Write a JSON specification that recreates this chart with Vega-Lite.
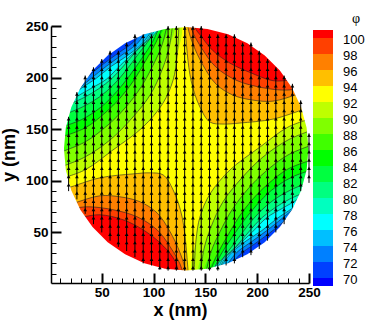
{"$schema":"https://vega.github.io/schema/vega-lite/v6.json","width":258,"height":257,"padding":{"left":51,"top":26,"right":65,"bottom":49},"autosize":{"type":"none"},"background":"white","config":{"view":{"stroke":null},"font":"Liberation Sans"},
"datasets":{"poly":[
{"p":"base","v":93,"c":1,"x":-5,"y":-5},{"p":"base","v":93,"c":1,"x":-5,"y":255},{"p":"base","v":93,"c":1,"x":255,"y":255},{"p":"base","v":93,"c":1,"x":255,"y":-5},
{"p":"TL92","v":91,"x":9.7,"y":101.9},{"p":"TL92","v":91,"x":33.8,"y":110.6},{"p":"TL92","v":91,"x":60.8,"y":129.9},{"p":"TL92","v":91,"x":89.8,"y":152.1},{"p":"TL92","v":91,"x":109.1,"y":175.3},{"p":"TL92","v":91,"x":118.8,"y":197.5},{"p":"TL92","v":91,"x":122.6,"y":219.8},{"p":"TL92","v":91,"x":124.6,"y":255},{"p":"TL92","v":91,"c":1,"x":1,"y":255},
{"p":"TL90","v":89,"x":7.8,"y":112.5},{"p":"TL90","v":89,"x":33.8,"y":123.1},{"p":"TL90","v":89,"x":58,"y":139.6},{"p":"TL90","v":89,"x":79.2,"y":160.8},{"p":"TL90","v":89,"x":96.6,"y":183},{"p":"TL90","v":89,"x":108.1,"y":207.2},{"p":"TL90","v":89,"x":114.9,"y":228.5},{"p":"TL90","v":89,"x":118.8,"y":255},{"p":"TL90","v":89,"c":1,"x":1,"y":255},
{"p":"TL88","v":87,"x":7.8,"y":127},{"p":"TL88","v":87,"x":33.8,"y":137.6},{"p":"TL88","v":87,"x":56,"y":154.1},{"p":"TL88","v":87,"x":72.4,"y":170.5},{"p":"TL88","v":87,"x":87.9,"y":190.8},{"p":"TL88","v":87,"x":99.5,"y":212},{"p":"TL88","v":87,"x":108.1,"y":231.4},{"p":"TL88","v":87,"x":113.9,"y":255},{"p":"TL88","v":87,"c":1,"x":1,"y":255},
{"p":"TL86","v":85,"x":7.8,"y":141.5},{"p":"TL86","v":85,"x":33.8,"y":151.2},{"p":"TL86","v":85,"x":53.1,"y":165.7},{"p":"TL86","v":85,"x":67.6,"y":180.1},{"p":"TL86","v":85,"x":81.1,"y":197.5},{"p":"TL86","v":85,"x":92.7,"y":216.9},{"p":"TL86","v":85,"x":102.4,"y":234.3},{"p":"TL86","v":85,"x":111,"y":255},{"p":"TL86","v":85,"c":1,"x":1,"y":255},
{"p":"TL84","v":83,"x":9.3,"y":151.6},{"p":"TL84","v":83,"x":30.5,"y":159.3},{"p":"TL84","v":83,"x":49.8,"y":171.9},{"p":"TL84","v":83,"x":64.3,"y":186.4},{"p":"TL84","v":83,"x":76.8,"y":201.8},{"p":"TL84","v":83,"x":88.4,"y":218.3},{"p":"TL84","v":83,"x":99,"y":234.7},{"p":"TL84","v":83,"x":107.7,"y":254},{"p":"TL84","v":83,"c":1,"x":1,"y":255},
{"p":"TL82","v":81,"x":9.8,"y":162.7},{"p":"TL82","v":81,"x":31,"y":171.4},{"p":"TL82","v":81,"x":47.4,"y":181},{"p":"TL82","v":81,"x":60.9,"y":192.6},{"p":"TL82","v":81,"x":73.5,"y":207.1},{"p":"TL82","v":81,"x":85.1,"y":222.6},{"p":"TL82","v":81,"x":96.6,"y":238},{"p":"TL82","v":81,"x":104.4,"y":253.5},{"p":"TL82","v":81,"c":1,"x":1,"y":255},
{"p":"TL80","v":79,"x":15.1,"y":172.8},{"p":"TL80","v":79,"x":32.5,"y":180.5},{"p":"TL80","v":79,"x":47,"y":189.2},{"p":"TL80","v":79,"x":59.5,"y":198.9},{"p":"TL80","v":79,"x":71.1,"y":211.4},{"p":"TL80","v":79,"x":82.7,"y":225},{"p":"TL80","v":79,"x":95.2,"y":238.5},{"p":"TL80","v":79,"x":102,"y":252},{"p":"TL80","v":79,"c":1,"x":1,"y":255},
{"p":"TL78","v":77,"x":14,"y":172},{"p":"TL78","v":77,"x":23.4,"y":179.9},{"p":"TL78","v":77,"x":39.8,"y":189.6},{"p":"TL78","v":77,"x":54.3,"y":198.3},{"p":"TL78","v":77,"x":68.8,"y":212.8},{"p":"TL78","v":77,"x":83.3,"y":226.3},{"p":"TL78","v":77,"x":100.6,"y":241.8},{"p":"TL78","v":77,"x":106,"y":249},{"p":"TL78","v":77,"c":1,"x":1,"y":255},
{"p":"TL76","v":75,"x":21,"y":182},{"p":"TL76","v":75,"x":30.2,"y":189.6},{"p":"TL76","v":75,"x":44.6,"y":199.3},{"p":"TL76","v":75,"x":59.1,"y":210.9},{"p":"TL76","v":75,"x":73.6,"y":220.5},{"p":"TL76","v":75,"x":88.1,"y":232.1},{"p":"TL76","v":75,"x":95.8,"y":241.8},{"p":"TL76","v":75,"x":101,"y":249},{"p":"TL76","v":75,"c":1,"x":1,"y":255},
{"p":"TL74","v":73,"x":30,"y":191},{"p":"TL74","v":73,"x":39.8,"y":199.3},{"p":"TL74","v":73,"x":54.3,"y":210.9},{"p":"TL74","v":73,"x":68.8,"y":221.5},{"p":"TL74","v":73,"x":83.3,"y":232.1},{"p":"TL74","v":73,"x":91,"y":241.8},{"p":"TL74","v":73,"x":96,"y":249},{"p":"TL74","v":73,"c":1,"x":1,"y":255},
{"p":"TL72","v":71,"x":27.5,"y":193.5},{"p":"TL72","v":71,"x":37.3,"y":201.8},{"p":"TL72","v":71,"x":51.8,"y":213.4},{"p":"TL72","v":71,"x":66.3,"y":224},{"p":"TL72","v":71,"x":80.8,"y":234.6},{"p":"TL72","v":71,"x":88.5,"y":244.3},{"p":"TL72","v":71,"x":93.5,"y":251.5},{"p":"TL72","v":71,"c":1,"x":1,"y":255},
{"p":"BR92","v":91,"x":253.9,"y":160.8},{"p":"BR92","v":91,"x":229.8,"y":152.1},{"p":"BR92","v":91,"x":202.8,"y":132.8},{"p":"BR92","v":91,"x":173.8,"y":110.6},{"p":"BR92","v":91,"x":154.5,"y":87.4},{"p":"BR92","v":91,"x":144.8,"y":65.2},{"p":"BR92","v":91,"x":141,"y":42.9},{"p":"BR92","v":91,"x":139,"y":7.7},{"p":"BR92","v":91,"c":1,"x":260,"y":1},
{"p":"BR90","v":89,"x":255.8,"y":150.2},{"p":"BR90","v":89,"x":229.8,"y":139.6},{"p":"BR90","v":89,"x":205.6,"y":123.1},{"p":"BR90","v":89,"x":184.4,"y":101.9},{"p":"BR90","v":89,"x":167,"y":79.7},{"p":"BR90","v":89,"x":155.5,"y":55.5},{"p":"BR90","v":89,"x":148.7,"y":34.2},{"p":"BR90","v":89,"x":144.8,"y":7.2},{"p":"BR90","v":89,"c":1,"x":260,"y":1},
{"p":"BR88","v":87,"x":255.8,"y":135.7},{"p":"BR88","v":87,"x":229.8,"y":125.1},{"p":"BR88","v":87,"x":207.6,"y":108.6},{"p":"BR88","v":87,"x":191.2,"y":92.2},{"p":"BR88","v":87,"x":175.7,"y":71.9},{"p":"BR88","v":87,"x":164.1,"y":50.7},{"p":"BR88","v":87,"x":155.5,"y":31.3},{"p":"BR88","v":87,"x":149.7,"y":7.2},{"p":"BR88","v":87,"c":1,"x":260,"y":1},
{"p":"BR86","v":85,"x":255.8,"y":121.2},{"p":"BR86","v":85,"x":229.8,"y":111.5},{"p":"BR86","v":85,"x":210.5,"y":97},{"p":"BR86","v":85,"x":196,"y":82.6},{"p":"BR86","v":85,"x":182.5,"y":65.2},{"p":"BR86","v":85,"x":170.9,"y":45.8},{"p":"BR86","v":85,"x":161.2,"y":28.4},{"p":"BR86","v":85,"x":152.6,"y":7.2},{"p":"BR86","v":85,"c":1,"x":260,"y":1},
{"p":"BR84","v":83,"x":254.3,"y":111.1},{"p":"BR84","v":83,"x":233.1,"y":103.4},{"p":"BR84","v":83,"x":213.8,"y":90.8},{"p":"BR84","v":83,"x":199.3,"y":76.3},{"p":"BR84","v":83,"x":186.8,"y":60.9},{"p":"BR84","v":83,"x":175.2,"y":44.4},{"p":"BR84","v":83,"x":164.6,"y":28},{"p":"BR84","v":83,"x":155.9,"y":8.7},{"p":"BR84","v":83,"c":1,"x":260,"y":1},
{"p":"BR82","v":81,"x":253.8,"y":100},{"p":"BR82","v":81,"x":232.6,"y":91.3},{"p":"BR82","v":81,"x":216.2,"y":81.7},{"p":"BR82","v":81,"x":202.7,"y":70.1},{"p":"BR82","v":81,"x":190.1,"y":55.6},{"p":"BR82","v":81,"x":178.5,"y":40.1},{"p":"BR82","v":81,"x":167,"y":24.7},{"p":"BR82","v":81,"x":159.2,"y":9.2},{"p":"BR82","v":81,"c":1,"x":260,"y":1},
{"p":"BR80","v":79,"x":248.5,"y":89.9},{"p":"BR80","v":79,"x":231.1,"y":82.2},{"p":"BR80","v":79,"x":216.6,"y":73.5},{"p":"BR80","v":79,"x":204.1,"y":63.8},{"p":"BR80","v":79,"x":192.5,"y":51.3},{"p":"BR80","v":79,"x":180.9,"y":37.7},{"p":"BR80","v":79,"x":168.4,"y":24.2},{"p":"BR80","v":79,"x":161.6,"y":10.7},{"p":"BR80","v":79,"c":1,"x":260,"y":1},
{"p":"BR78","v":77,"x":249.6,"y":90.7},{"p":"BR78","v":77,"x":240.2,"y":82.8},{"p":"BR78","v":77,"x":223.8,"y":73.1},{"p":"BR78","v":77,"x":209.3,"y":64.4},{"p":"BR78","v":77,"x":194.8,"y":49.9},{"p":"BR78","v":77,"x":180.3,"y":36.4},{"p":"BR78","v":77,"x":163,"y":20.9},{"p":"BR78","v":77,"x":157.6,"y":13.7},{"p":"BR78","v":77,"c":1,"x":260,"y":1},
{"p":"BR76","v":75,"x":242.6,"y":80.7},{"p":"BR76","v":75,"x":233.4,"y":73.1},{"p":"BR76","v":75,"x":219,"y":63.4},{"p":"BR76","v":75,"x":204.5,"y":51.8},{"p":"BR76","v":75,"x":190,"y":42.2},{"p":"BR76","v":75,"x":175.5,"y":30.6},{"p":"BR76","v":75,"x":167.8,"y":20.9},{"p":"BR76","v":75,"x":162.6,"y":13.7},{"p":"BR76","v":75,"c":1,"x":260,"y":1},
{"p":"BR74","v":73,"x":233.6,"y":71.7},{"p":"BR74","v":73,"x":223.8,"y":63.4},{"p":"BR74","v":73,"x":209.3,"y":51.8},{"p":"BR74","v":73,"x":194.8,"y":41.2},{"p":"BR74","v":73,"x":180.3,"y":30.6},{"p":"BR74","v":73,"x":172.6,"y":20.9},{"p":"BR74","v":73,"x":167.6,"y":13.7},{"p":"BR74","v":73,"c":1,"x":260,"y":1},
{"p":"BR72","v":71,"x":236.1,"y":69.2},{"p":"BR72","v":71,"x":226.3,"y":60.9},{"p":"BR72","v":71,"x":211.8,"y":49.3},{"p":"BR72","v":71,"x":197.3,"y":38.7},{"p":"BR72","v":71,"x":182.8,"y":28.1},{"p":"BR72","v":71,"x":175.1,"y":18.4},{"p":"BR72","v":71,"x":170.1,"y":11.2},{"p":"BR72","v":71,"c":1,"x":260,"y":1},
{"p":"BL94","v":95,"x":9.7,"y":91.3},{"p":"BL94","v":95,"x":17.4,"y":93.2},{"p":"BL94","v":95,"x":48.3,"y":102.9},{"p":"BL94","v":95,"x":80.2,"y":106.7},{"p":"BL94","v":95,"x":96.6,"y":107.7},{"p":"BL94","v":95,"x":109.1,"y":105.8},{"p":"BL94","v":95,"x":118.8,"y":91.3},{"p":"BL94","v":95,"x":127.5,"y":65.2},{"p":"BL94","v":95,"x":133.2,"y":14},{"p":"BL94","v":95,"x":134.2,"y":-5},{"p":"BL94","v":95,"c":1,"x":1,"y":-5},
{"p":"BL96","v":97,"x":9.7,"y":73.9},{"p":"BL96","v":97,"x":24.2,"y":78.7},{"p":"BL96","v":97,"x":48.3,"y":85.5},{"p":"BL96","v":97,"x":67.6,"y":84.5},{"p":"BL96","v":97,"x":86.9,"y":79.7},{"p":"BL96","v":97,"x":103.3,"y":69},{"p":"BL96","v":97,"x":115.9,"y":50.7},{"p":"BL96","v":97,"x":125.5,"y":30.4},{"p":"BL96","v":97,"x":130.4,"y":14},{"p":"BL96","v":97,"x":131.3,"y":-5},{"p":"BL96","v":97,"c":1,"x":1,"y":-5},
{"p":"BL98","v":99,"x":14.5,"y":70},{"p":"BL98","v":99,"x":27.1,"y":73.9},{"p":"BL98","v":99,"x":38.6,"y":74.8},{"p":"BL98","v":99,"x":60.8,"y":72},{"p":"BL98","v":99,"x":84,"y":65.2},{"p":"BL98","v":99,"x":103.3,"y":52.6},{"p":"BL98","v":99,"x":115.9,"y":36.2},{"p":"BL98","v":99,"x":127.5,"y":14},{"p":"BL98","v":99,"x":128.4,"y":-5},{"p":"BL98","v":99,"c":1,"x":1,"y":-5},
{"p":"BL100","v":101,"x":19.3,"y":64.2},{"p":"BL100","v":101,"x":31.9,"y":65.2},{"p":"BL100","v":101,"x":48.3,"y":67.1},{"p":"BL100","v":101,"x":70.5,"y":62.3},{"p":"BL100","v":101,"x":89.8,"y":52.6},{"p":"BL100","v":101,"x":106.2,"y":40},{"p":"BL100","v":101,"x":118.8,"y":25.6},{"p":"BL100","v":101,"x":123.6,"y":14},{"p":"BL100","v":101,"x":124.6,"y":-5},{"p":"BL100","v":101,"c":1,"x":1,"y":-5},
{"p":"TR94","v":95,"x":253.9,"y":171.4},{"p":"TR94","v":95,"x":246.2,"y":169.5},{"p":"TR94","v":95,"x":215.3,"y":159.8},{"p":"TR94","v":95,"x":183.4,"y":156},{"p":"TR94","v":95,"x":167,"y":155},{"p":"TR94","v":95,"x":154.5,"y":156.9},{"p":"TR94","v":95,"x":144.8,"y":171.4},{"p":"TR94","v":95,"x":136.1,"y":197.5},{"p":"TR94","v":95,"x":130.4,"y":248.7},{"p":"TR94","v":95,"x":129.4,"y":268},{"p":"TR94","v":95,"c":1,"x":255,"y":268},
{"p":"TR96","v":97,"x":253.9,"y":188.8},{"p":"TR96","v":97,"x":239.4,"y":184},{"p":"TR96","v":97,"x":215.3,"y":177.2},{"p":"TR96","v":97,"x":196,"y":178.2},{"p":"TR96","v":97,"x":176.7,"y":183},{"p":"TR96","v":97,"x":160.3,"y":193.7},{"p":"TR96","v":97,"x":147.7,"y":212},{"p":"TR96","v":97,"x":138.1,"y":232.3},{"p":"TR96","v":97,"x":133.2,"y":248.7},{"p":"TR96","v":97,"x":132.3,"y":268},{"p":"TR96","v":97,"c":1,"x":255,"y":268},
{"p":"TR98","v":99,"x":249.1,"y":192.7},{"p":"TR98","v":99,"x":236.5,"y":188.8},{"p":"TR98","v":99,"x":225,"y":187.9},{"p":"TR98","v":99,"x":202.8,"y":190.7},{"p":"TR98","v":99,"x":179.6,"y":197.5},{"p":"TR98","v":99,"x":160.3,"y":210.1},{"p":"TR98","v":99,"x":147.7,"y":226.5},{"p":"TR98","v":99,"x":136.1,"y":248.7},{"p":"TR98","v":99,"x":135.2,"y":268},{"p":"TR98","v":99,"c":1,"x":255,"y":268},
{"p":"TR100","v":101,"x":244.3,"y":198.5},{"p":"TR100","v":101,"x":231.7,"y":197.5},{"p":"TR100","v":101,"x":215.3,"y":197},{"p":"TR100","v":101,"x":193.1,"y":205},{"p":"TR100","v":101,"x":173.8,"y":214},{"p":"TR100","v":101,"x":157.4,"y":226},{"p":"TR100","v":101,"x":146,"y":240},{"p":"TR100","v":101,"x":140,"y":248.7},{"p":"TR100","v":101,"x":139,"y":268},{"p":"TR100","v":101,"c":1,"x":255,"y":268}
],
"mask":[{"x":-5,"y":131},{"x":-5,"y":260},{"x":260,"y":260},{"x":260,"y":-5},{"x":-5,"y":-5},{"x":-5,"y":131},{"x":13.5,"y":131},{"x":15.3,"y":110.5},{"x":20.6,"y":90.6},{"x":29.3,"y":72},{"x":41.1,"y":55.2},{"x":55.7,"y":40.6},{"x":72.5,"y":28.8},{"x":91.1,"y":20.1},{"x":111,"y":14.8},{"x":131.5,"y":13},{"x":152,"y":14.8},{"x":171.9,"y":20.1},{"x":190.5,"y":28.8},{"x":207.3,"y":40.6},{"x":221.9,"y":55.2},{"x":233.7,"y":72},{"x":242.4,"y":90.6},{"x":247.7,"y":110.5},{"x":249.5,"y":131},{"x":247.7,"y":151.5},{"x":242.4,"y":171.4},{"x":233.7,"y":190},{"x":221.9,"y":206.8},{"x":207.3,"y":221.4},{"x":190.5,"y":233.2},{"x":171.9,"y":241.9},{"x":152,"y":247.2},{"x":131.5,"y":249},{"x":111,"y":247.2},{"x":91.1,"y":241.9},{"x":72.5,"y":233.2},{"x":55.7,"y":221.4},{"x":41.1,"y":206.8},{"x":29.3,"y":190},{"x":20.6,"y":171.4},{"x":15.3,"y":151.5},{"x":13.5,"y":131}],
"cols":[{"x":18,"y":90,"y2":162},{"x":26,"y":82,"y2":186},{"x":34,"y":68,"y2":202},{"x":42,"y":58,"y2":210},{"x":50,"y":50,"y2":218},{"x":58,"y":42,"y2":226},{"x":66,"y":36,"y2":226},{"x":74,"y":32,"y2":234},{"x":82,"y":26,"y2":242},{"x":90,"y":20,"y2":242},{"x":98,"y":18,"y2":242},{"x":106,"y":14,"y2":242},{"x":114,"y":13,"y2":250},{"x":122,"y":13,"y2":250},{"x":130,"y":13,"y2":250},{"x":138,"y":13,"y2":250},{"x":146,"y":13,"y2":250},{"x":154,"y":13,"y2":242},{"x":162,"y":13,"y2":242},{"x":170,"y":18,"y2":242},{"x":178,"y":20,"y2":242},{"x":186,"y":26,"y2":234},{"x":194,"y":28,"y2":234},{"x":202,"y":34,"y2":226},{"x":210,"y":42,"y2":218},{"x":218,"y":50,"y2":210},{"x":226,"y":58,"y2":202},{"x":234,"y":74,"y2":194},{"x":242,"y":90,"y2":178},{"x":250,"y":98,"y2":146}],
"heads":[
{"x":18,"y":96},{"x":18,"y":104},{"x":18,"y":112},{"x":18,"y":120},{"x":18,"y":128},{"x":18,"y":136},{"x":18,"y":144},{"x":18,"y":152},{"x":18,"y":160},
{"x":26,"y":88},{"x":26,"y":96},{"x":26,"y":104},{"x":26,"y":112},{"x":26,"y":120},{"x":26,"y":128},{"x":26,"y":136},{"x":26,"y":144},{"x":26,"y":152},{"x":26,"y":160},{"x":26,"y":168},{"x":26,"y":176},{"x":26,"y":184},
{"x":34,"y":72},{"x":34,"y":80},{"x":34,"y":88},{"x":34,"y":96},{"x":34,"y":104},{"x":34,"y":112},{"x":34,"y":120},{"x":34,"y":128},{"x":34,"y":136},{"x":34,"y":144},{"x":34,"y":152},{"x":34,"y":160},{"x":34,"y":168},{"x":34,"y":176},{"x":34,"y":184},{"x":34,"y":192},{"x":34,"y":200},
{"x":42,"y":64},{"x":42,"y":72},{"x":42,"y":80},{"x":42,"y":88},{"x":42,"y":96},{"x":42,"y":104},{"x":42,"y":112},{"x":42,"y":120},{"x":42,"y":128},{"x":42,"y":136},{"x":42,"y":144},{"x":42,"y":152},{"x":42,"y":160},{"x":42,"y":168},{"x":42,"y":176},{"x":42,"y":184},{"x":42,"y":192},{"x":42,"y":200},{"x":42,"y":208},
{"x":50,"y":56},{"x":50,"y":64},{"x":50,"y":72},{"x":50,"y":80},{"x":50,"y":88},{"x":50,"y":96},{"x":50,"y":104},{"x":50,"y":112},{"x":50,"y":120},{"x":50,"y":128},{"x":50,"y":136},{"x":50,"y":144},{"x":50,"y":152},{"x":50,"y":160},{"x":50,"y":168},{"x":50,"y":176},{"x":50,"y":184},{"x":50,"y":192},{"x":50,"y":200},{"x":50,"y":208},{"x":50,"y":216},
{"x":58,"y":48},{"x":58,"y":56},{"x":58,"y":64},{"x":58,"y":72},{"x":58,"y":80},{"x":58,"y":88},{"x":58,"y":96},{"x":58,"y":104},{"x":58,"y":112},{"x":58,"y":120},{"x":58,"y":128},{"x":58,"y":136},{"x":58,"y":144},{"x":58,"y":152},{"x":58,"y":160},{"x":58,"y":168},{"x":58,"y":176},{"x":58,"y":184},{"x":58,"y":192},{"x":58,"y":200},{"x":58,"y":208},{"x":58,"y":216},{"x":58,"y":224},
{"x":66,"y":40},{"x":66,"y":48},{"x":66,"y":56},{"x":66,"y":64},{"x":66,"y":72},{"x":66,"y":80},{"x":66,"y":88},{"x":66,"y":96},{"x":66,"y":104},{"x":66,"y":112},{"x":66,"y":120},{"x":66,"y":128},{"x":66,"y":136},{"x":66,"y":144},{"x":66,"y":152},{"x":66,"y":160},{"x":66,"y":168},{"x":66,"y":176},{"x":66,"y":184},{"x":66,"y":192},{"x":66,"y":200},{"x":66,"y":208},{"x":66,"y":216},{"x":66,"y":224},
{"x":74,"y":40},{"x":74,"y":48},{"x":74,"y":56},{"x":74,"y":64},{"x":74,"y":72},{"x":74,"y":80},{"x":74,"y":88},{"x":74,"y":96},{"x":74,"y":104},{"x":74,"y":112},{"x":74,"y":120},{"x":74,"y":128},{"x":74,"y":136},{"x":74,"y":144},{"x":74,"y":152},{"x":74,"y":160},{"x":74,"y":168},{"x":74,"y":176},{"x":74,"y":184},{"x":74,"y":192},{"x":74,"y":200},{"x":74,"y":208},{"x":74,"y":216},{"x":74,"y":224},{"x":74,"y":232},
{"x":82,"y":32},{"x":82,"y":40},{"x":82,"y":48},{"x":82,"y":56},{"x":82,"y":64},{"x":82,"y":72},{"x":82,"y":80},{"x":82,"y":88},{"x":82,"y":96},{"x":82,"y":104},{"x":82,"y":112},{"x":82,"y":120},{"x":82,"y":128},{"x":82,"y":136},{"x":82,"y":144},{"x":82,"y":152},{"x":82,"y":160},{"x":82,"y":168},{"x":82,"y":176},{"x":82,"y":184},{"x":82,"y":192},{"x":82,"y":200},{"x":82,"y":208},{"x":82,"y":216},{"x":82,"y":224},{"x":82,"y":232},{"x":82,"y":240},
{"x":90,"y":24},{"x":90,"y":32},{"x":90,"y":40},{"x":90,"y":48},{"x":90,"y":56},{"x":90,"y":64},{"x":90,"y":72},{"x":90,"y":80},{"x":90,"y":88},{"x":90,"y":96},{"x":90,"y":104},{"x":90,"y":112},{"x":90,"y":120},{"x":90,"y":128},{"x":90,"y":136},{"x":90,"y":144},{"x":90,"y":152},{"x":90,"y":160},{"x":90,"y":168},{"x":90,"y":176},{"x":90,"y":184},{"x":90,"y":192},{"x":90,"y":200},{"x":90,"y":208},{"x":90,"y":216},{"x":90,"y":224},{"x":90,"y":232},{"x":90,"y":240},
{"x":98,"y":24},{"x":98,"y":32},{"x":98,"y":40},{"x":98,"y":48},{"x":98,"y":56},{"x":98,"y":64},{"x":98,"y":72},{"x":98,"y":80},{"x":98,"y":88},{"x":98,"y":96},{"x":98,"y":104},{"x":98,"y":112},{"x":98,"y":120},{"x":98,"y":128},{"x":98,"y":136},{"x":98,"y":144},{"x":98,"y":152},{"x":98,"y":160},{"x":98,"y":168},{"x":98,"y":176},{"x":98,"y":184},{"x":98,"y":192},{"x":98,"y":200},{"x":98,"y":208},{"x":98,"y":216},{"x":98,"y":224},{"x":98,"y":232},{"x":98,"y":240},
{"x":106,"y":16},{"x":106,"y":24},{"x":106,"y":32},{"x":106,"y":40},{"x":106,"y":48},{"x":106,"y":56},{"x":106,"y":64},{"x":106,"y":72},{"x":106,"y":80},{"x":106,"y":88},{"x":106,"y":96},{"x":106,"y":104},{"x":106,"y":112},{"x":106,"y":120},{"x":106,"y":128},{"x":106,"y":136},{"x":106,"y":144},{"x":106,"y":152},{"x":106,"y":160},{"x":106,"y":168},{"x":106,"y":176},{"x":106,"y":184},{"x":106,"y":192},{"x":106,"y":200},{"x":106,"y":208},{"x":106,"y":216},{"x":106,"y":224},{"x":106,"y":232},{"x":106,"y":240},
{"x":114,"y":16},{"x":114,"y":24},{"x":114,"y":32},{"x":114,"y":40},{"x":114,"y":48},{"x":114,"y":56},{"x":114,"y":64},{"x":114,"y":72},{"x":114,"y":80},{"x":114,"y":88},{"x":114,"y":96},{"x":114,"y":104},{"x":114,"y":112},{"x":114,"y":120},{"x":114,"y":128},{"x":114,"y":136},{"x":114,"y":144},{"x":114,"y":152},{"x":114,"y":160},{"x":114,"y":168},{"x":114,"y":176},{"x":114,"y":184},{"x":114,"y":192},{"x":114,"y":200},{"x":114,"y":208},{"x":114,"y":216},{"x":114,"y":224},{"x":114,"y":232},{"x":114,"y":240},{"x":114,"y":248},
{"x":122,"y":16},{"x":122,"y":24},{"x":122,"y":32},{"x":122,"y":40},{"x":122,"y":48},{"x":122,"y":56},{"x":122,"y":64},{"x":122,"y":72},{"x":122,"y":80},{"x":122,"y":88},{"x":122,"y":96},{"x":122,"y":104},{"x":122,"y":112},{"x":122,"y":120},{"x":122,"y":128},{"x":122,"y":136},{"x":122,"y":144},{"x":122,"y":152},{"x":122,"y":160},{"x":122,"y":168},{"x":122,"y":176},{"x":122,"y":184},{"x":122,"y":192},{"x":122,"y":200},{"x":122,"y":208},{"x":122,"y":216},{"x":122,"y":224},{"x":122,"y":232},{"x":122,"y":240},{"x":122,"y":248},
{"x":130,"y":16},{"x":130,"y":24},{"x":130,"y":32},{"x":130,"y":40},{"x":130,"y":48},{"x":130,"y":56},{"x":130,"y":64},{"x":130,"y":72},{"x":130,"y":80},{"x":130,"y":88},{"x":130,"y":96},{"x":130,"y":104},{"x":130,"y":112},{"x":130,"y":120},{"x":130,"y":128},{"x":130,"y":136},{"x":130,"y":144},{"x":130,"y":152},{"x":130,"y":160},{"x":130,"y":168},{"x":130,"y":176},{"x":130,"y":184},{"x":130,"y":192},{"x":130,"y":200},{"x":130,"y":208},{"x":130,"y":216},{"x":130,"y":224},{"x":130,"y":232},{"x":130,"y":240},{"x":130,"y":248},
{"x":138,"y":16},{"x":138,"y":24},{"x":138,"y":32},{"x":138,"y":40},{"x":138,"y":48},{"x":138,"y":56},{"x":138,"y":64},{"x":138,"y":72},{"x":138,"y":80},{"x":138,"y":88},{"x":138,"y":96},{"x":138,"y":104},{"x":138,"y":112},{"x":138,"y":120},{"x":138,"y":128},{"x":138,"y":136},{"x":138,"y":144},{"x":138,"y":152},{"x":138,"y":160},{"x":138,"y":168},{"x":138,"y":176},{"x":138,"y":184},{"x":138,"y":192},{"x":138,"y":200},{"x":138,"y":208},{"x":138,"y":216},{"x":138,"y":224},{"x":138,"y":232},{"x":138,"y":240},{"x":138,"y":248},
{"x":146,"y":16},{"x":146,"y":24},{"x":146,"y":32},{"x":146,"y":40},{"x":146,"y":48},{"x":146,"y":56},{"x":146,"y":64},{"x":146,"y":72},{"x":146,"y":80},{"x":146,"y":88},{"x":146,"y":96},{"x":146,"y":104},{"x":146,"y":112},{"x":146,"y":120},{"x":146,"y":128},{"x":146,"y":136},{"x":146,"y":144},{"x":146,"y":152},{"x":146,"y":160},{"x":146,"y":168},{"x":146,"y":176},{"x":146,"y":184},{"x":146,"y":192},{"x":146,"y":200},{"x":146,"y":208},{"x":146,"y":216},{"x":146,"y":224},{"x":146,"y":232},{"x":146,"y":240},{"x":146,"y":248},
{"x":154,"y":16},{"x":154,"y":24},{"x":154,"y":32},{"x":154,"y":40},{"x":154,"y":48},{"x":154,"y":56},{"x":154,"y":64},{"x":154,"y":72},{"x":154,"y":80},{"x":154,"y":88},{"x":154,"y":96},{"x":154,"y":104},{"x":154,"y":112},{"x":154,"y":120},{"x":154,"y":128},{"x":154,"y":136},{"x":154,"y":144},{"x":154,"y":152},{"x":154,"y":160},{"x":154,"y":168},{"x":154,"y":176},{"x":154,"y":184},{"x":154,"y":192},{"x":154,"y":200},{"x":154,"y":208},{"x":154,"y":216},{"x":154,"y":224},{"x":154,"y":232},{"x":154,"y":240},
{"x":162,"y":16},{"x":162,"y":24},{"x":162,"y":32},{"x":162,"y":40},{"x":162,"y":48},{"x":162,"y":56},{"x":162,"y":64},{"x":162,"y":72},{"x":162,"y":80},{"x":162,"y":88},{"x":162,"y":96},{"x":162,"y":104},{"x":162,"y":112},{"x":162,"y":120},{"x":162,"y":128},{"x":162,"y":136},{"x":162,"y":144},{"x":162,"y":152},{"x":162,"y":160},{"x":162,"y":168},{"x":162,"y":176},{"x":162,"y":184},{"x":162,"y":192},{"x":162,"y":200},{"x":162,"y":208},{"x":162,"y":216},{"x":162,"y":224},{"x":162,"y":232},{"x":162,"y":240},
{"x":170,"y":24},{"x":170,"y":32},{"x":170,"y":40},{"x":170,"y":48},{"x":170,"y":56},{"x":170,"y":64},{"x":170,"y":72},{"x":170,"y":80},{"x":170,"y":88},{"x":170,"y":96},{"x":170,"y":104},{"x":170,"y":112},{"x":170,"y":120},{"x":170,"y":128},{"x":170,"y":136},{"x":170,"y":144},{"x":170,"y":152},{"x":170,"y":160},{"x":170,"y":168},{"x":170,"y":176},{"x":170,"y":184},{"x":170,"y":192},{"x":170,"y":200},{"x":170,"y":208},{"x":170,"y":216},{"x":170,"y":224},{"x":170,"y":232},{"x":170,"y":240},
{"x":178,"y":24},{"x":178,"y":32},{"x":178,"y":40},{"x":178,"y":48},{"x":178,"y":56},{"x":178,"y":64},{"x":178,"y":72},{"x":178,"y":80},{"x":178,"y":88},{"x":178,"y":96},{"x":178,"y":104},{"x":178,"y":112},{"x":178,"y":120},{"x":178,"y":128},{"x":178,"y":136},{"x":178,"y":144},{"x":178,"y":152},{"x":178,"y":160},{"x":178,"y":168},{"x":178,"y":176},{"x":178,"y":184},{"x":178,"y":192},{"x":178,"y":200},{"x":178,"y":208},{"x":178,"y":216},{"x":178,"y":224},{"x":178,"y":232},{"x":178,"y":240},
{"x":186,"y":32},{"x":186,"y":40},{"x":186,"y":48},{"x":186,"y":56},{"x":186,"y":64},{"x":186,"y":72},{"x":186,"y":80},{"x":186,"y":88},{"x":186,"y":96},{"x":186,"y":104},{"x":186,"y":112},{"x":186,"y":120},{"x":186,"y":128},{"x":186,"y":136},{"x":186,"y":144},{"x":186,"y":152},{"x":186,"y":160},{"x":186,"y":168},{"x":186,"y":176},{"x":186,"y":184},{"x":186,"y":192},{"x":186,"y":200},{"x":186,"y":208},{"x":186,"y":216},{"x":186,"y":224},{"x":186,"y":232},
{"x":194,"y":32},{"x":194,"y":40},{"x":194,"y":48},{"x":194,"y":56},{"x":194,"y":64},{"x":194,"y":72},{"x":194,"y":80},{"x":194,"y":88},{"x":194,"y":96},{"x":194,"y":104},{"x":194,"y":112},{"x":194,"y":120},{"x":194,"y":128},{"x":194,"y":136},{"x":194,"y":144},{"x":194,"y":152},{"x":194,"y":160},{"x":194,"y":168},{"x":194,"y":176},{"x":194,"y":184},{"x":194,"y":192},{"x":194,"y":200},{"x":194,"y":208},{"x":194,"y":216},{"x":194,"y":224},{"x":194,"y":232},
{"x":202,"y":40},{"x":202,"y":48},{"x":202,"y":56},{"x":202,"y":64},{"x":202,"y":72},{"x":202,"y":80},{"x":202,"y":88},{"x":202,"y":96},{"x":202,"y":104},{"x":202,"y":112},{"x":202,"y":120},{"x":202,"y":128},{"x":202,"y":136},{"x":202,"y":144},{"x":202,"y":152},{"x":202,"y":160},{"x":202,"y":168},{"x":202,"y":176},{"x":202,"y":184},{"x":202,"y":192},{"x":202,"y":200},{"x":202,"y":208},{"x":202,"y":216},{"x":202,"y":224},
{"x":210,"y":48},{"x":210,"y":56},{"x":210,"y":64},{"x":210,"y":72},{"x":210,"y":80},{"x":210,"y":88},{"x":210,"y":96},{"x":210,"y":104},{"x":210,"y":112},{"x":210,"y":120},{"x":210,"y":128},{"x":210,"y":136},{"x":210,"y":144},{"x":210,"y":152},{"x":210,"y":160},{"x":210,"y":168},{"x":210,"y":176},{"x":210,"y":184},{"x":210,"y":192},{"x":210,"y":200},{"x":210,"y":208},{"x":210,"y":216},
{"x":218,"y":56},{"x":218,"y":64},{"x":218,"y":72},{"x":218,"y":80},{"x":218,"y":88},{"x":218,"y":96},{"x":218,"y":104},{"x":218,"y":112},{"x":218,"y":120},{"x":218,"y":128},{"x":218,"y":136},{"x":218,"y":144},{"x":218,"y":152},{"x":218,"y":160},{"x":218,"y":168},{"x":218,"y":176},{"x":218,"y":184},{"x":218,"y":192},{"x":218,"y":200},{"x":218,"y":208},
{"x":226,"y":64},{"x":226,"y":72},{"x":226,"y":80},{"x":226,"y":88},{"x":226,"y":96},{"x":226,"y":104},{"x":226,"y":112},{"x":226,"y":120},{"x":226,"y":128},{"x":226,"y":136},{"x":226,"y":144},{"x":226,"y":152},{"x":226,"y":160},{"x":226,"y":168},{"x":226,"y":176},{"x":226,"y":184},{"x":226,"y":192},{"x":226,"y":200},
{"x":234,"y":80},{"x":234,"y":88},{"x":234,"y":96},{"x":234,"y":104},{"x":234,"y":112},{"x":234,"y":120},{"x":234,"y":128},{"x":234,"y":136},{"x":234,"y":144},{"x":234,"y":152},{"x":234,"y":160},{"x":234,"y":168},{"x":234,"y":176},{"x":234,"y":184},{"x":234,"y":192},
{"x":242,"y":96},{"x":242,"y":104},{"x":242,"y":112},{"x":242,"y":120},{"x":242,"y":128},{"x":242,"y":136},{"x":242,"y":144},{"x":242,"y":152},{"x":242,"y":160},{"x":242,"y":168},{"x":242,"y":176},
{"x":250,"y":104},{"x":250,"y":112},{"x":250,"y":120},{"x":250,"y":128},{"x":250,"y":136},{"x":250,"y":144}
]},
"layer":[
{"data":{"name":"poly"},"mark":{"type":"line","clip":true,"stroke":null,"interpolate":"catmull-rom"},
"encoding":{"x":{"field":"x","type":"quantitative","scale":{"domain":[1,250],"nice":false,"zero":false},"axis":{"values":[50,100,150,200,250],"tickSize":-10,"tickWidth":2,"tickColor":"black","domainColor":"black","domainWidth":1.5,"grid":false,"labelFont":"Liberation Sans","labelFontWeight":"bold","labelFontSize":13.5,"labelColor":"black","labelPadding":12,"labelFlush":false,"labelOverlap":false,"title":"x (nm)","titleFont":"Liberation Sans","titleFontWeight":"bold","titleFontSize":18,"titleColor":"black","titlePadding":3,"orient":"bottom","zindex":1}},
"y":{"field":"y","type":"quantitative","scale":{"domain":[1,250],"nice":false,"zero":false},"axis":{"values":[50,100,150,200,250],"tickSize":-10,"tickWidth":2,"tickColor":"black","domainColor":"black","domainWidth":1.5,"grid":false,"labelFont":"Liberation Sans","labelFontWeight":"bold","labelFontSize":13.5,"labelColor":"black","labelPadding":13,"labelFlush":false,"labelOverlap":false,"title":"y (nm)","titleFont":"Liberation Sans","titleFontWeight":"bold","titleFontSize":18,"titleColor":"black","titlePadding":7,"orient":"left","zindex":1}},
"fill":{"field":"v","type":"quantitative","title":"φ","scale":{"type":"threshold","domain":[70,71,72,73,74,75,76,77,78,79,80,81,82,83,84,85,86,87,88,89,90,91,92,93,94,95,96,97,98,99,100],"range":["#0000ff","#0040ff","#0040ff","#0080ff","#0080ff","#00bfff","#00bfff","#00ffff","#00ffff","#00ffbf","#00ffbf","#00ff80","#00ff80","#00ff40","#00ff40","#00ff00","#00ff00","#40ff00","#40ff00","#80ff00","#80ff00","#bfff00","#bfff00","#ffff00","#ffff00","#ffbf00","#ffbf00","#ff8000","#ff8000","#ff4000","#ff4000","#ff0000"]},
"legend":{"type":"gradient","orient":"none","legendX":262,"legendY":-14,"gradientLength":256,"gradientThickness":20,"labelFont":"Liberation Sans","labelFontSize":13,"labelColor":"black","labelOffset":10,"labelOverlap":false,"labelExpr":"datum.value % 2 === 0 ? datum.label : ''","titleFont":"Liberation Serif","titleFontSize":14,"titleFontWeight":"normal","titleColor":"black","titleAnchor":"end","titlePadding":4,"encode":{"labels":{"update":{"dy":{"value":1.5}}},"title":{"update":{"dx":{"value":-5}}}}}},
"detail":{"field":"p"},"order":{"value":null}}},
{"data":{"name":"poly"},"transform":[{"filter":"datum.c!==1"}],"mark":{"type":"line","clip":true,"stroke":"#222","strokeWidth":0.6,"interpolate":"catmull-rom"},
"encoding":{"x":{"field":"x","type":"quantitative","axis":{"values":[10,20,30,40,60,70,80,90,110,120,130,140,160,170,180,190,210,220,230,240],"tickSize":-5,"tickWidth":1,"tickColor":"black","domain":false,"labels":false,"title":null,"grid":false,"orient":"bottom","zindex":1}},
"y":{"field":"y","type":"quantitative","axis":{"values":[10,20,30,40,60,70,80,90,110,120,130,140,160,170,180,190,210,220,230,240],"tickSize":-5,"tickWidth":1,"tickColor":"black","domain":false,"labels":false,"title":null,"grid":false,"orient":"left","zindex":1}},
"detail":{"field":"p"},"order":{"value":null}}},
{"data":{"name":"mask"},"mark":{"type":"line","clip":true,"stroke":null,"fill":"white"},"encoding":{"x":{"field":"x","type":"quantitative","axis":null},"y":{"field":"y","type":"quantitative","axis":null},"order":{"value":null}}},
{"data":{"name":"cols"},"mark":{"type":"rule","color":"black","strokeWidth":1},"encoding":{"x":{"field":"x","type":"quantitative","axis":null},"y":{"field":"y","type":"quantitative","axis":null},"y2":{"field":"y2"}}},
{"data":{"name":"heads"},"mark":{"type":"point","shape":"triangle-up","filled":true,"color":"black","opacity":1,"size":14},"encoding":{"x":{"field":"x","type":"quantitative","axis":null},"y":{"field":"y","type":"quantitative","axis":null}}}
],
"resolve":{"axis":{"x":"independent","y":"independent"}}}
